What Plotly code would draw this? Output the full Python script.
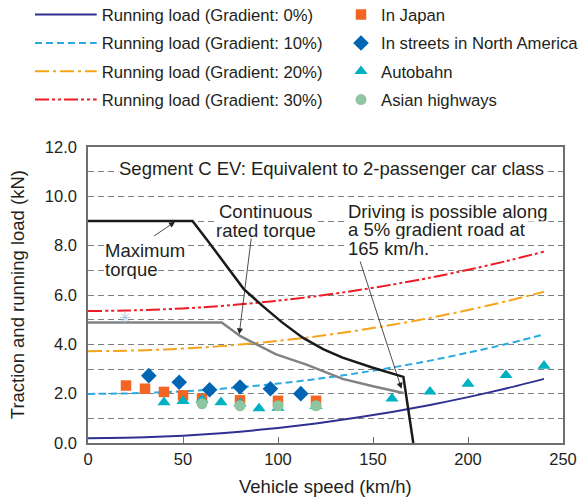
import plotly.graph_objects as go

# ---- data ----
speed_grid = [0, 20, 40, 60, 80, 100, 120, 140, 160, 180, 200, 220, 240]
load_0 = [0.19, 0.21, 0.26, 0.34, 0.46, 0.61, 0.79, 1.01, 1.26, 1.54, 1.86, 2.21, 2.60]
load_10 = [1.99, 2.01, 2.06, 2.14, 2.26, 2.41, 2.59, 2.81, 3.06, 3.34, 3.66, 4.01, 4.40]
load_20 = [3.72, 3.74, 3.79, 3.87, 3.99, 4.14, 4.32, 4.54, 4.79, 5.07, 5.39, 5.74, 6.13]
load_30 = [5.35, 5.37, 5.42, 5.50, 5.62, 5.77, 5.95, 6.17, 6.42, 6.70, 7.02, 7.37, 7.76]

max_torque_x = [0, 55, 63, 72, 82, 92, 102, 113, 124, 134, 150, 166, 171.2]
max_torque_y = [9.0, 9.0, 8.2, 7.25, 6.24, 5.55, 4.9, 4.27, 3.8, 3.46, 3.05, 2.68, 0.0]

rated_x = [0, 70.4, 80, 90, 99, 115, 134, 150, 164, 166]
rated_y = [4.89, 4.89, 4.34, 3.93, 3.59, 3.18, 2.6, 2.3, 2.09, 2.03]

japan_x = [20, 30, 40, 50, 60, 80, 100, 120]
japan_y = [2.33, 2.2, 2.07, 1.93, 1.8, 1.73, 1.71, 1.71]

na_x = [32, 48, 64, 80, 96, 112]
na_y = [2.73, 2.46, 2.16, 2.27, 2.2, 2.0]

autobahn_x = [40, 50, 60, 70, 80, 90, 100, 120, 160, 180, 200, 220, 240]
autobahn_y = [1.65, 1.7, 1.75, 1.65, 1.6, 1.4, 1.42, 1.5, 1.8, 2.08, 2.4, 2.75, 3.13]

asian_x = [60, 80, 100, 120]
asian_y = [1.59, 1.51, 1.51, 1.51]

odd_x = [19.5]
odd_y = [5.09]

x_ticks = [0, 50, 100, 150, 200, 250]
y_ticks = [0, 2, 4, 6, 8, 10, 12]

FONT = "Liberation Sans, Arial, Helvetica, sans-serif"
TXT = "#231f20"
GRID_DASH = "6px,4px"

fig = go.Figure()

def line(x, y, name, color, dash, rank, group):
    fig.add_trace(go.Scatter(x=x, y=y, mode="lines", name=name,
                             line=dict(color=color, width=2, dash=dash, shape="spline", smoothing=0.6),
                             legend="legend", legendgroup=group, legendrank=rank))

line(speed_grid, load_0, "Running load (Gradient: 0%)", "#2e3192", "solid", 1, "a")
line(speed_grid, load_10, "Running load (Gradient: 10%)", "#29abe2", "7px,4px", 2, "b")
line(speed_grid, load_20, "Running load (Gradient: 20%)", "#f7a21b", "14px,4px,3px,4px", 3, "c")
line(speed_grid, load_30, "Running load (Gradient: 30%)", "#ed1c24", "14px,3px,3px,3px,3px,3px", 4, "d")

fig.add_trace(go.Scatter(x=rated_x, y=rated_y, mode="lines", showlegend=False,
                         line=dict(color="#808285", width=2.5)))
fig.add_trace(go.Scatter(x=max_torque_x, y=max_torque_y, mode="lines", showlegend=False,
                         line=dict(color="#1a1a1a", width=2.5)))

fig.add_trace(go.Scatter(x=odd_x, y=odd_y, mode="markers", showlegend=False,
                         marker=dict(symbol="asterisk-open", size=9, color="#a8c8e8",
                                     line=dict(color="#a8c8e8", width=1))))

def pts(x, y, name, symbol, color, size, rank, group):
    fig.add_trace(go.Scatter(x=x, y=y, mode="markers", name=name,
                             marker=dict(symbol=symbol, size=size, color=color, line=dict(width=0)),
                             legend="legend2", legendgroup=group, legendrank=rank))

pts(japan_x, japan_y, "In Japan", "square", "#f26522", 10.5, 1, "e")
pts(na_x, na_y, "In streets in North America", "diamond", "#0066b3", 12, 2, "f")
pts(autobahn_x, autobahn_y, "Autobahn", "triangle-up", "#00b1c1", 11.5, 3, "g")
pts(asian_x, asian_y, "Asian highways", "circle", "#8fc5a0", 11, 4, "h")

ann_font = dict(family=FONT, size=18.5, color=TXT)

def label(x, y, text, xanchor="center", h=19):
    fig.add_annotation(x=x, y=y, text=text, xanchor=xanchor, showarrow=False,
                       font=ann_font, bgcolor="white", borderpad=0, height=h)

# lines of each block are added bottom-up so descenders stay visible
label(127.9, 11.13, "Segment C EV: Equivalent to 2-passenger car class", h=22)
label(8.4, 7.05, "torque", "left")
label(8.4, 7.82, "Maximum", "left")
label(93.7, 8.63, "rated torque")
label(93.7, 9.38, "Continuous")
label(136.2, 7.89, "165 km/h.", "left")
label(136.2, 8.66, "a 5% gradient road at", "left")
label(136.2, 9.40, "Driving is possible along", "left")

# arrows
for (tx, ty, hx, hy) in [(34, 8.35, 45.8, 8.97), (86, 8.35, 79.6, 4.41), (143, 7.42, 165, 2.2)]:
    fig.add_annotation(x=hx, y=hy, ax=tx, ay=ty, xref="x", yref="y", axref="x", ayref="y",
                       text="", showarrow=True, arrowhead=2, arrowsize=1.5, arrowwidth=0.8,
                       arrowcolor=TXT)

# axis titles
fig.add_annotation(xref="paper", yref="paper", x=0.5, y=-0.148, yanchor="middle",
                   text="Vehicle speed (km/h)", showarrow=False,
                   font=dict(family=FONT, size=18.5, color=TXT))
fig.add_annotation(xref="paper", yref="paper", x=-0.149, y=0.5, xanchor="center",
                   text="Traction and running load (kN)", textangle=-90, showarrow=False,
                   font=dict(family=FONT, size=18.5, color=TXT))

axis_common = dict(showline=True, linecolor="#6d6e71", linewidth=1.5, mirror=True,
                   tickfont=dict(family=FONT, size=16.5, color=TXT), zeroline=False)

fig.update_xaxes(range=[0, 250], tickvals=x_ticks, ticks="inside",
                 ticklen=6, tickcolor="#6d6e71", showgrid=False, **axis_common)
fig.update_yaxes(range=[0, 12], tickvals=y_ticks, tickformat=".1f", ticks="",
                 ticklabelstandoff=6,
                 showgrid=True, gridcolor="#7f7f7f", gridwidth=1, griddash=GRID_DASH,
                 minor=dict(dtick=1, showgrid=True, gridcolor="#7f7f7f", gridwidth=1, griddash=GRID_DASH),
                 **axis_common)

leg_common = dict(font=dict(family=FONT, size=16.7, color=TXT), bgcolor="rgba(0,0,0,0)",
                  xref="container", yref="container", yanchor="bottom", xanchor="left",
                  tracegroupgap=3.6, traceorder="grouped", orientation="v")
fig.update_layout(
    width=582, height=499,
    margin=dict(l=88, r=19, t=147, b=56, autoexpand=False),
    paper_bgcolor="white", plot_bgcolor="white",
    font=dict(family=FONT, color=TXT),
    legend=dict(x=30 / 582, y=0.765, itemwidth=61.7, **leg_common),
    legend2=dict(x=341 / 582, y=0.765, **leg_common),
)

fig.write_html("out.html", config={"displayModeBar": False},
               post_script="document.body.style.margin='0';")
